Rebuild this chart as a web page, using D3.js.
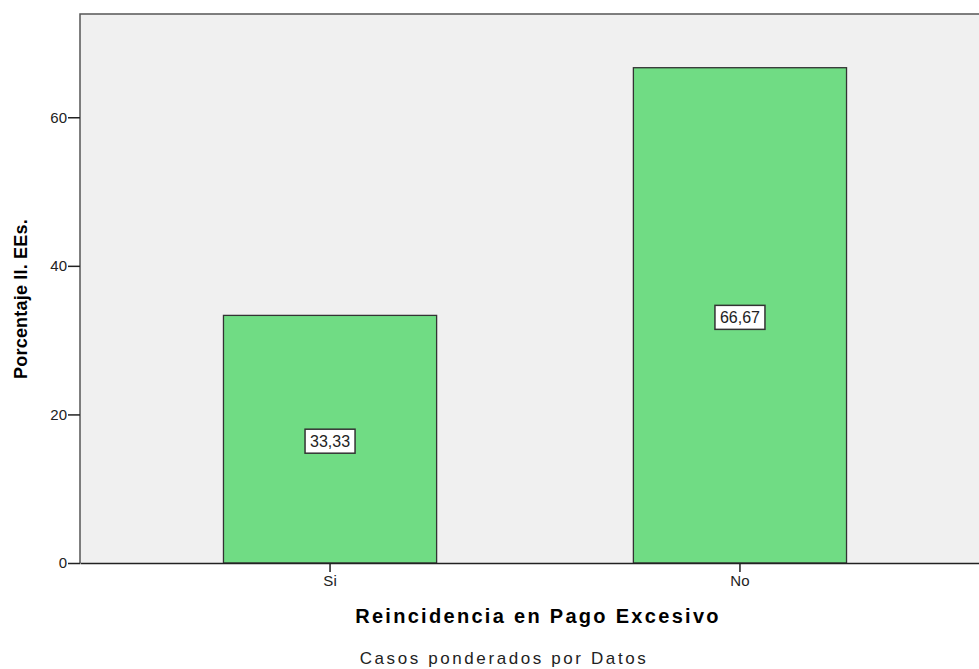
<!DOCTYPE html>
<html>
<head>
<meta charset="utf-8">
<script src="https://cdn.jsdelivr.net/npm/d3@7"></script>
<style>
  body { margin: 0; background: #fff; }
  text { font-family: "Liberation Sans", Arial, sans-serif; }
</style>
</head>
<body>
<div class="chart"></div>
<script>
// data
const categories = ["Si", "No"];
const values = [33.33, 66.67];
const yTicks = [0, 20, 40, 60];

const width = 979, height = 669;
const margin = {top: 14, right: -11, bottom: 106, left: 80};

const svg = d3.select('.chart')
    .append('svg')
    .attr("width", width)
    .attr("height", height);

const x = d3.scaleBand()
    .domain(categories)
    .range([margin.left, width - margin.right])
    .paddingInner(0.48)
    .paddingOuter(0.35);

const y = d3.scaleLinear()
    .domain([0, 73.9])
    .range([height - margin.bottom, margin.top]);

// plot background
svg.append("rect")
    .attr("x", margin.left)
    .attr("y", margin.top)
    .attr("width", width - margin.left - margin.right)
    .attr("height", height - margin.top - margin.bottom)
    .attr("fill", "#f0f0f0");

// frame (left + top)
svg.append("path")
    .attr("d", `M${margin.left},${height - margin.bottom}V${margin.top}H${width}`)
    .attr("fill", "none")
    .attr("stroke", "#555")
    .attr("stroke-width", 1.5);

// bars
svg.selectAll("rect.bar")
    .data(categories)
    .join("rect")
    .attr("class", "bar")
    .attr("x", d => x(d))
    .attr("width", x.bandwidth())
    .attr("y", (d, i) => y(values[i]))
    .attr("height", (d, i) => y(0) - y(values[i]))
    .attr("fill", "#70dc84")
    .attr("stroke", "#333")
    .attr("stroke-width", 1.3);

// value labels at half height
const labels = svg.selectAll("g.lab")
    .data(categories)
    .join("g")
    .attr("class", "lab")
    .attr("transform", (d, i) => `translate(${x(d) + x.bandwidth() / 2},${y(values[i] / 2) + 2})`);

labels.append("rect")
    .attr("x", -25)
    .attr("y", -12)
    .attr("width", 50)
    .attr("height", 24)
    .attr("fill", "#fff")
    .attr("stroke", "#333")
    .attr("stroke-width", 1.5);

labels.append("text")
    .attr("text-anchor", "middle")
    .attr("dy", "0.36em")
    .attr("font-size", 16)
    .attr("fill", "#222")
    .text((d, i) => values[i].toFixed(2).replace(".", ","));

// y axis
const yAxis = svg.append("g")
    .attr("transform", `translate(${margin.left},0)`)
    .call(d3.axisLeft(y).tickValues(yTicks).tickSize(12).tickPadding(1));
yAxis.select(".domain").remove();
yAxis.selectAll("line").attr("stroke", "#222").attr("stroke-width", 1.5);
yAxis.selectAll("text").attr("font-size", 15).attr("fill", "#222")
    .style("font-family", "Liberation Sans, Arial, sans-serif");

// x axis
const xAxis = svg.append("g")
    .attr("transform", `translate(0,${height - margin.bottom})`)
    .call(d3.axisBottom(x).tickSize(9).tickPadding(3).tickSizeOuter(0));
xAxis.select(".domain").attr("stroke", "#222").attr("stroke-width", 1.5);
xAxis.selectAll("line").attr("stroke", "#222").attr("stroke-width", 1.5);
xAxis.selectAll("text").attr("font-size", 15).attr("fill", "#222")
    .style("font-family", "Liberation Sans, Arial, sans-serif");

// axis titles
svg.append("text")
    .attr("x", 538)
    .attr("y", 623)
    .attr("text-anchor", "middle")
    .attr("font-weight", "bold")
    .attr("font-size", 20)
    .attr("letter-spacing", 2.3)
    .text("Reincidencia en Pago Excesivo");

svg.append("text")
    .attr("transform", `translate(27,299) rotate(-90)`)
    .attr("text-anchor", "middle")
    .attr("font-weight", "bold")
    .attr("font-size", 18)
    .attr("letter-spacing", 0.2)
    .text("Porcentaje II. EEs.");

svg.append("text")
    .attr("x", 504)
    .attr("y", 664)
    .attr("text-anchor", "middle")
    .attr("font-size", 17)
    .attr("letter-spacing", 2.6)
    .attr("fill", "#222")
    .text("Casos ponderados por Datos");
</script>
</body>
</html>
